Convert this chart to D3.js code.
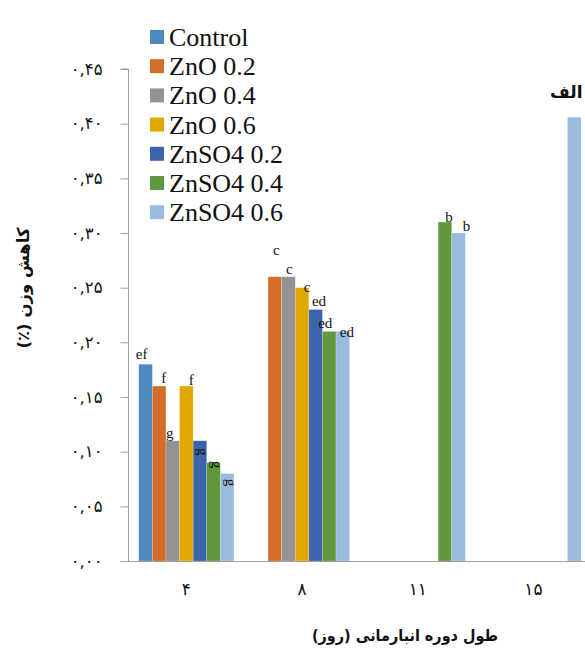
<!DOCTYPE html>
<html><head><meta charset="utf-8">
<script src="https://cdn.jsdelivr.net/npm/d3@7"></script>
<style>
body{margin:0;background:#fff;overflow:hidden}
.serif{font-family:'Liberation Serif','Times New Roman',Times,'DejaVu Serif',serif}
.fa{font-family:'DejaVu Sans',sans-serif}
.fac{font-family:'DejaVu Sans Condensed','DejaVu Sans',sans-serif;font-stretch:condensed}
</style>
</head><body><svg id="c" width="585" height="649"></svg>
<script>
// ---------- data ----------
const categories = ["۴", "۸", "۱۱", "۱۵"];
const seriesNames = ["Control", "ZnO 0.2", "ZnO 0.4", "ZnO 0.6", "ZnSO4 0.2", "ZnSO4 0.4", "ZnSO4 0.6"];
const control   = [0.18, null, null, null];
const zno02     = [0.16, 0.26, null, null];
const zno04     = [0.11, 0.26, null, null];
const zno06     = [0.16, 0.25, null, null];
const znso402   = [0.11, 0.23, null, null];
const znso404   = [0.09, 0.21, 0.31, null];
const znso406   = [0.08, 0.21, 0.30, 0.406];
const seriesValues = [control, zno02, zno04, zno06, znso402, znso404, znso406];

const lettersControl = ["ef", "", "", ""];
const lettersZno02   = ["f", "c", "", ""];
const lettersZno04   = ["g", "c", "", ""];
const lettersZno06   = ["f", "c", "", ""];
const lettersZnso402 = ["g", "ed", "", ""];
const lettersZnso404 = ["g", "ed", "b", ""];
const lettersZnso406 = ["g", "ed", "b", "الف"];
const seriesLetters = [lettersControl, lettersZno02, lettersZno04, lettersZno06, lettersZnso402, lettersZnso404, lettersZnso406];

const yTicks = [0, 0.05, 0.10, 0.15, 0.20, 0.25, 0.30, 0.35, 0.40, 0.45];
const yTickLabels = ["۰,۰۰", "۰,۰۵", "۰,۱۰", "۰,۱۵", "۰,۲۰", "۰,۲۵", "۰,۳۰", "۰,۳۵", "۰,۴۰", "۰,۴۵"];
const yTitle = "کاهش وزن (٪)";
const xTitle = "طول دوره انبارمانی (روز)";

// ---------- style / layout ----------
const colors = ["#4F89BF", "#D56D2A", "#939393", "#E2A800", "#3D63AB", "#61983E", "#9ABBE0"];
// label nudges [dx from bar centre, dy from bar top, rotated]
const labelNudge = [
  [[-4, -5, 0], [0, 0, 0], [0, 0, 0], [0, 0, 0]],
  [[4.5, -3, 0], [1.4, -22, 0], [0, 0, 0], [0, 0, 0]],
  [[-3, -3, 0], [1, -3, 0], [0, 0, 0], [0, 0, 0]],
  [[5, -1, 0], [5, 4, 0], [0, 0, 0], [0, 0, 0]],
  [[3.5, 11, 1], [3.4, -4, 0], [0, 0, 0], [0, 0, 0]],
  [[3, 2, 1], [-4, -3, 0], [4, 0, 0], [0, 0, 0]],
  [[4, 9, 1], [4, 6, 0], [8, -2, 0], [-8, -19, 0]]
];

const svg = d3.select("#c");
const plotLeft = 128.5, plotBottom = 561, plotTop = 69, step = 115.7;
const x0 = d3.scaleBand().domain(categories).range([plotLeft, plotLeft + step * categories.length]).padding(0);
const groupW = 95.2;
const x1 = d3.scaleBand().domain(seriesNames).range([0, groupW]).padding(0);
const y = d3.scaleLinear().domain([0, 0.45]).range([plotBottom, plotTop]);
const groupOff = (x0.bandwidth() - groupW) / 2;

// bars
seriesNames.forEach((s, si) => {
  const vals = seriesValues[si];
  const data = categories.map((c, ci) => ({c, ci, v: vals[ci]})).filter(d => d.v != null);
  svg.append("g").selectAll("rect").data(data).join("rect")
    .attr("x", d => x0(d.c) + groupOff + x1(s))
    .attr("y", d => y(d.v))
    .attr("width", x1.bandwidth())
    .attr("height", d => y(0) - y(d.v))
    .attr("fill", colors[si])
    .attr("stroke", "#ffffff").attr("stroke-opacity", 0.35).attr("stroke-width", 0.6);
});

// y axis
const yAxis = d3.axisLeft(y).tickValues(yTicks).tickSize(8).tickPadding(18)
  .tickFormat((d, i) => yTickLabels[i]);
const gy = svg.append("g").attr("transform", `translate(${plotLeft},0)`).call(yAxis);
gy.attr("font-family", null);
gy.select(".domain").attr("stroke", "#A0A0A0").attr("d", `M-8,${plotTop}H0V${plotBottom}`);
gy.selectAll(".tick line").attr("stroke", "#A0A0A0");
gy.selectAll(".tick text").attr("class", "fa").attr("font-size", 16.5).attr("fill", "#111")
  .attr("direction", "ltr");

// x axis
const xAxis = d3.axisBottom(x0).tickSize(0).tickPadding(22);
const gx = svg.append("g").attr("transform", `translate(0,${plotBottom})`).call(xAxis);
gx.attr("font-family", null);
gx.select(".domain").attr("stroke", "#A0A0A0").attr("d", `M${plotLeft - 8},0.5H600`);
gx.selectAll(".tick text").attr("class", "fa").attr("font-size", 17).attr("fill", "#111");

// letters
seriesNames.forEach((s, si) => {
  categories.forEach((c, ci) => {
    const t = seriesLetters[si][ci], v = seriesValues[si][ci];
    if (!t || v == null) return;
    const [dx, dy, rot] = labelNudge[si][ci];
    const cx = x0(c) + groupOff + x1(s) + x1.bandwidth() / 2 + dx;
    const cy = y(v) + dy;
    const isFa = /[\u0600-\u06FF]/.test(t);
    const txt = svg.append("text").text(t)
      .attr("class", isFa ? "fa" : "serif")
      .attr("font-weight", isFa ? "bold" : "normal")
      .attr("font-size", isFa ? 17 : 15)
      .attr("fill", "#111")
      .attr("text-anchor", "middle");
    if (rot) {
      txt.attr("dominant-baseline", "central").attr("transform", `translate(${cx},${cy}) rotate(90)`);
    } else {
      txt.attr("x", cx).attr("y", cy);
    }
  });
});

// legend
const lg = svg.append("g");
seriesNames.forEach((s, i) => {
  const cy = 37 + i * 29.2;
  lg.append("rect").attr("x", 150).attr("y", cy - 7).attr("width", 14).attr("height", 14).attr("fill", colors[i]);
  lg.append("text").attr("x", 169).attr("y", cy + 9).text(s)
    .attr("class", "serif").attr("font-size", 26).attr("fill", "#111");
});

// axis titles
svg.append("text").text(yTitle)
  .attr("transform", "translate(23,288) rotate(-90)")
  .attr("direction", "rtl").attr("text-anchor", "middle").attr("dominant-baseline", "central")
  .attr("class", "fa").attr("font-weight", "bold").attr("font-size", 16.5).attr("fill", "#111");
svg.append("text").text(xTitle)
  .attr("x", 405).attr("y", 641)
  .attr("direction", "rtl").attr("text-anchor", "middle")
  .attr("class", "fac").attr("font-weight", "bold").attr("font-size", 16).attr("fill", "#111");
</script>
</body></html>
